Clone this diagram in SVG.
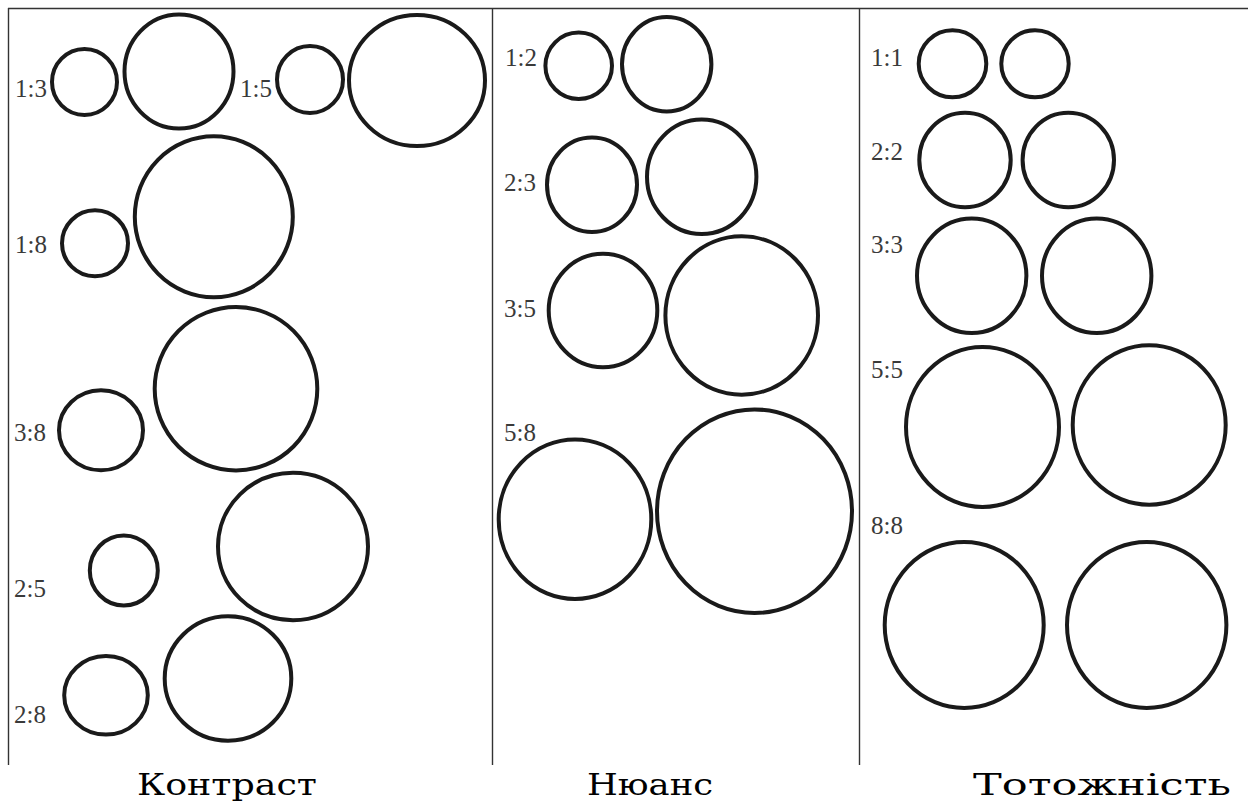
<svg xmlns="http://www.w3.org/2000/svg" width="1248" height="811" viewBox="0 0 1248 811">
<style>
.c{fill:none;stroke:#1a1a1a;stroke-width:4}
.l{font-family:"Liberation Serif","Times New Roman",serif;font-size:25px;fill:#3a3a3a}
.t{font-family:"DejaVu Serif","Liberation Serif",serif;font-size:29px;fill:#000}
.f{stroke:#333;stroke-width:1.4;fill:none}
</style>
<rect width="1248" height="811" fill="#fff"/>
<g id="frame">
<path class="f" d="M8 8.5H1248M8.5 8V765M492.5 8V765M859.5 8V765"/>
</g>
<g id="contrast">
<g id="r1-3"><text class="l" x="15" y="97">1:3</text><ellipse class="c" cx="84.5" cy="82" rx="32.5" ry="33"/><ellipse class="c" cx="179" cy="71.5" rx="54.5" ry="57"/></g>
<g id="r1-5"><text class="l" x="240" y="97">1:5</text><ellipse class="c" cx="310" cy="79.5" rx="33" ry="33.5"/><ellipse class="c" cx="417" cy="80.5" rx="68" ry="65.5"/></g>
<g id="r1-8"><text class="l" x="15" y="253">1:8</text><ellipse class="c" cx="95" cy="243.3" rx="33" ry="33"/><ellipse class="c" cx="213.8" cy="216.7" rx="79" ry="80.5"/></g>
<g id="r3-8"><text class="l" x="14" y="441">3:8</text><ellipse class="c" cx="101" cy="430.3" rx="42" ry="40"/><ellipse class="c" cx="236" cy="388.7" rx="81.3" ry="81.7"/></g>
<g id="r2-5"><text class="l" x="14" y="597">2:5</text><ellipse class="c" cx="123.8" cy="570.5" rx="34" ry="35"/><ellipse class="c" cx="293" cy="546.5" rx="75" ry="73.8"/></g>
<g id="r2-8"><text class="l" x="14" y="723">2:8</text><ellipse class="c" cx="106" cy="695.3" rx="41.8" ry="39.3"/><ellipse class="c" cx="228" cy="678.5" rx="63.3" ry="62.2"/></g>
</g>
<g id="nuance">
<g id="r1-2"><text class="l" x="505" y="66">1:2</text><ellipse class="c" cx="578.7" cy="65.8" rx="33.3" ry="33.2"/><ellipse class="c" cx="666.7" cy="64.2" rx="44.7" ry="47.2"/></g>
<g id="r2-3"><text class="l" x="504" y="191">2:3</text><ellipse class="c" cx="592" cy="184.8" rx="45" ry="47.2"/><ellipse class="c" cx="701.7" cy="176.8" rx="54.7" ry="57.2"/></g>
<g id="r3-5"><text class="l" x="504" y="317">3:5</text><ellipse class="c" cx="603" cy="310.5" rx="54.3" ry="56.8"/><ellipse class="c" cx="741.7" cy="315.5" rx="76.3" ry="79.2"/></g>
<g id="r5-8"><text class="l" x="504" y="441">5:8</text><ellipse class="c" cx="575" cy="519.2" rx="76.3" ry="79.8"/><ellipse class="c" cx="754.5" cy="511.2" rx="97.5" ry="101.8"/></g>
</g>
<g id="identity">
<g id="r1-1"><text class="l" x="871" y="66">1:1</text><ellipse class="c" cx="952.5" cy="63.8" rx="33.8" ry="33.5"/><ellipse class="c" cx="1035" cy="63.8" rx="33.7" ry="33.5"/></g>
<g id="r2-2"><text class="l" x="871" y="160">2:2</text><ellipse class="c" cx="965" cy="160" rx="45.7" ry="47.3"/><ellipse class="c" cx="1068.3" cy="160" rx="45.7" ry="47.3"/></g>
<g id="r3-3"><text class="l" x="871" y="253">3:3</text><ellipse class="c" cx="971.7" cy="275.8" rx="54.7" ry="57.2"/><ellipse class="c" cx="1096.7" cy="275.8" rx="54.7" ry="57.2"/></g>
<g id="r5-5"><text class="l" x="871" y="378">5:5</text><ellipse class="c" cx="982.5" cy="427" rx="76.5" ry="80"/><ellipse class="c" cx="1149.2" cy="425" rx="76.5" ry="79.7"/></g>
<g id="r8-8"><text class="l" x="871" y="534">8:8</text><ellipse class="c" cx="964.2" cy="625" rx="79.5" ry="83"/><ellipse class="c" cx="1146.7" cy="625" rx="79.7" ry="83"/></g>
</g>
<g id="captions">
<text class="t" x="137" y="795" textLength="180" lengthAdjust="spacingAndGlyphs">Контраст</text>
<text class="t" x="587" y="795" textLength="126" lengthAdjust="spacingAndGlyphs">Нюанс</text>
<text class="t" x="973" y="795" textLength="258" lengthAdjust="spacingAndGlyphs">Тотожність</text>
</g>
</svg>
